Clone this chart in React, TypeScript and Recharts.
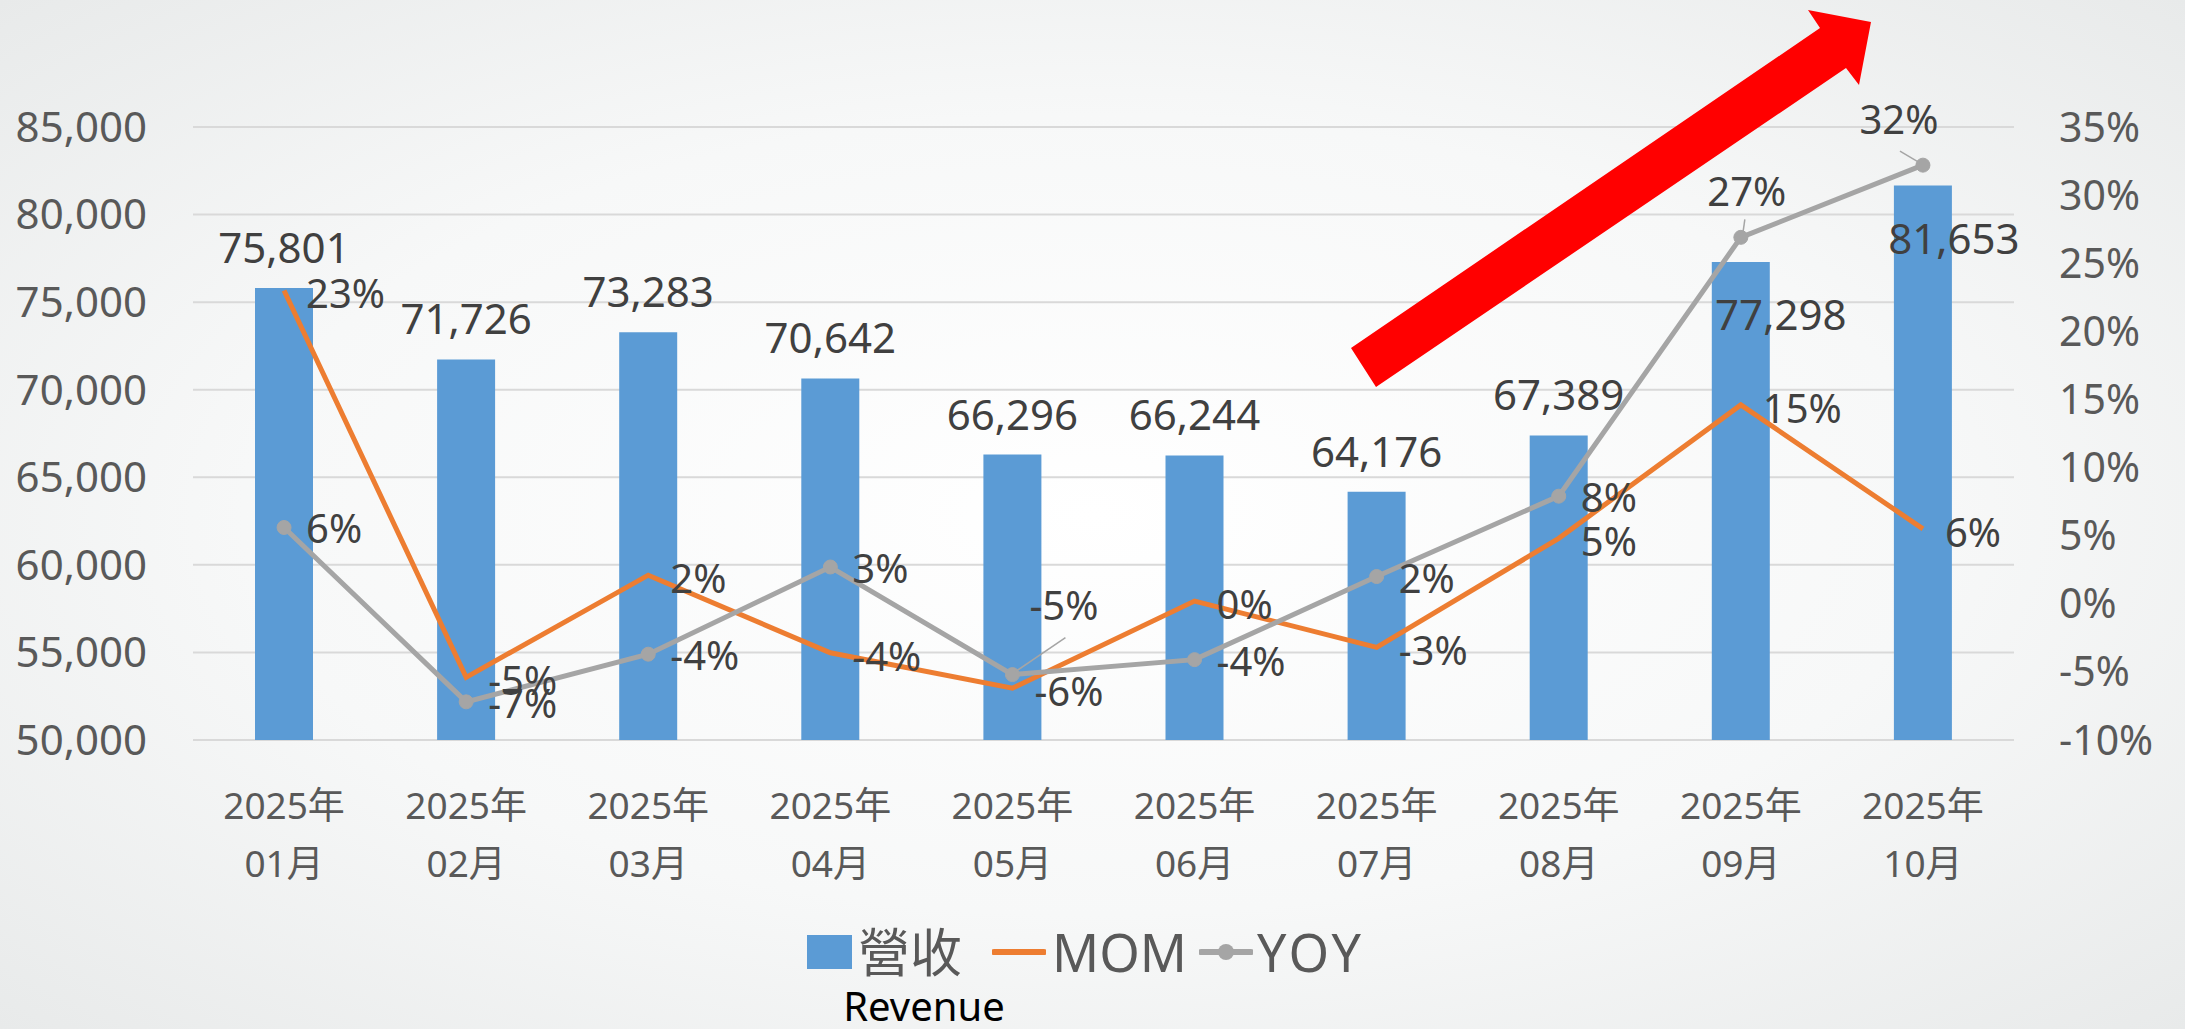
import {
  ComposedChart,
  Bar,
  Line,
  XAxis,
  YAxis,
  CartesianGrid,
  Legend,
  LabelList,
} from 'recharts'

const months = [
  '2025年01月', '2025年02月', '2025年03月', '2025年04月', '2025年05月',
  '2025年06月', '2025年07月', '2025年08月', '2025年09月', '2025年10月',
]
const revenue = [75801, 71726, 73283, 70642, 66296, 66244, 64176, 67389, 77298, 81653]
const mom = [23.0, -5.4, 2.1, -3.6, -6.2, 0.2, -3.2, 4.8, 14.6, 5.5]
const yoy = [5.6, -7.2, -3.7, 2.7, -5.2, -4.1, 2.0, 7.9, 26.9, 32.2]
const revenueTicks = [50000, 55000, 60000, 65000, 70000, 75000, 80000, 85000]
const pctTicks = [-10, -5, 0, 5, 10, 15, 20, 25, 30, 35]

const data = months.map((m, i) => ({ month: m, revenue: revenue[i], mom: mom[i], yoy: yoy[i] }))

const FONT = '"Noto Sans", "Noto Sans CJK TC", sans-serif'
const BLUE = '#5B9BD5'
const ORANGE = '#ED7D31'
const GRAY = '#A5A5A5'
const LABEL = '#404040'
const AXIS = '#595959'

// bars whose value label sits inside the bar (as in the original)
const insideLabels: Record<number, number> = { 8: 40, 9: 31 }

// eslint-disable-next-line @typescript-eslint/no-explicit-any
function BarLabel(props: any) {
  const { x, y, width, value, index } = props
  const inside = index in insideLabels
  const cx = x + width / 2 + (inside ? insideLabels[index] : 0)
  const by = inside ? y + 68 : y - 25
  return (
    <text x={cx} y={by} textAnchor="middle" fontFamily={FONT} fontSize={42} fill={LABEL}>
      {Number(value).toLocaleString('en-US')}
    </text>
  )
}

// eslint-disable-next-line @typescript-eslint/no-explicit-any
function MomLabel(props: any) {
  const { x, y, value } = props
  return (
    <text x={x + 22} y={y + 18} fontFamily={FONT} fontSize={40} fill={LABEL}>
      {`${Math.round(value)}%`}
    </text>
  )
}

// eslint-disable-next-line @typescript-eslint/no-explicit-any
function YoyLabel(props: any) {
  const { x, y, value, index } = props
  const txt = `${Math.round(value)}%`
  if (index === 4) {
    return (
      <g>
        <line x1={x + 3} y1={y - 3} x2={x + 53} y2={y - 37} stroke={GRAY} strokeWidth={1.5} />
        <text x={x + 17} y={y - 55} fontFamily={FONT} fontSize={40} fill={LABEL}>{txt}</text>
      </g>
    )
  }
  if (index === 8) {
    return (
      <g>
        <line x1={x + 2} y1={y - 4} x2={x + 4} y2={y - 18} stroke={GRAY} strokeWidth={1.5} />
        <text x={x + 6} y={y - 31} textAnchor="middle" fontFamily={FONT} fontSize={40} fill={LABEL}>{txt}</text>
      </g>
    )
  }
  if (index === 9) {
    return (
      <g>
        <line x1={x - 1} y1={y - 1} x2={x - 23} y2={y - 14} stroke={GRAY} strokeWidth={1.5} />
        <text x={x - 24} y={y - 31} textAnchor="middle" fontFamily={FONT} fontSize={40} fill={LABEL}>{txt}</text>
      </g>
    )
  }
  return (
    <text x={x + 22} y={y + 16} fontFamily={FONT} fontSize={40} fill={LABEL}>{txt}</text>
  )
}

// eslint-disable-next-line @typescript-eslint/no-explicit-any
function MonthTick({ x, y, payload }: any) {
  const v: string = payload.value
  return (
    <text x={x} y={y} textAnchor="middle" fontFamily={FONT} fontSize={37} fill={AXIS}>
      <tspan x={x} dy={79}>{v.slice(0, 5)}</tspan>
      <tspan x={x} dy={58}>{v.slice(5)}</tspan>
    </text>
  )
}

function LegendContent() {
  return (
    <div
      style={{
        display: 'flex',
        alignItems: 'center',
        justifyContent: 'center',
        height: 64,
        fontFamily: FONT,
        fontSize: 52,
        lineHeight: 1,
        color: AXIS,
        paddingRight: 14,
      }}
    >
      <span style={{ width: 45, height: 34, background: BLUE, marginRight: 6, display: 'inline-block' }} />
      <span>營收</span>
      <svg width={54} height={16} style={{ marginLeft: 30, marginRight: 6 }}>
        <line x1={2} y1={8} x2={52} y2={8} stroke={ORANGE} strokeWidth={6} strokeLinecap="round" />
      </svg>
      <span>MOM</span>
      <svg width={54} height={18} style={{ marginLeft: 12, marginRight: 4 }}>
        <line x1={2} y1={9} x2={52} y2={9} stroke={GRAY} strokeWidth={6} strokeLinecap="round" />
        <circle cx={27} cy={9} r={8} fill={GRAY} />
      </svg>
      <span style={{ letterSpacing: 3 }}>YOY</span>
    </div>
  )
}

export default function App() {
  return (
    <div
      style={{
        position: 'absolute',
        left: 0,
        top: 0,
        width: 2185,
        height: 1029,
        overflow: 'hidden',
        background: 'radial-gradient(ellipse at 50% 50%, #ffffff 0%, #f7f8f8 55%, #e8eaea 100%)',
      }}
    >
      <ComposedChart
        width={2185}
        height={1029}
        data={data}
        margin={{ top: 127, right: 0, left: 0, bottom: 139 }}
      >
        <CartesianGrid yAxisId="left" vertical={false} stroke="#D9D9D9" strokeWidth={2} />
        <XAxis
          dataKey="month"
          interval={0}
          axisLine={false}
          tickLine={false}
          tickSize={0}
          tickMargin={0}
          height={150}
          tick={<MonthTick />}
        />
        <YAxis
          yAxisId="left"
          orientation="left"
          width={193}
          domain={[50000, 85000]}
          ticks={revenueTicks}
          tickFormatter={(v) => Number(v).toLocaleString('en-US')}
          axisLine={false}
          tickLine={false}
          tickSize={0}
          tickMargin={46}
          tick={{ fontSize: 42, fill: AXIS, fontFamily: FONT }}
        />
        <YAxis
          yAxisId="right"
          orientation="right"
          width={171}
          domain={[-10, 35]}
          ticks={pctTicks}
          tickFormatter={(v) => `${v}%`}
          axisLine={false}
          tickLine={false}
          tickSize={0}
          tickMargin={45}
          tick={{ fontSize: 41, fill: AXIS, fontFamily: FONT, textAnchor: 'start' }}
        />
        <Legend
          verticalAlign="middle"
          align="center"
          layout="horizontal"
          wrapperStyle={{ top: 920, left: 0, width: 2185, height: 64 }}
          content={<LegendContent />}
        />
        <Bar yAxisId="left" dataKey="revenue" fill={BLUE} barSize={58} isAnimationActive={false}>
          <LabelList dataKey="revenue" content={<BarLabel />} />
        </Bar>
        <Line
          yAxisId="right"
          type="linear"
          dataKey="mom"
          stroke={ORANGE}
          strokeWidth={5}
          dot={false}
          isAnimationActive={false}
        >
          <LabelList dataKey="mom" content={<MomLabel />} />
        </Line>
        <Line
          yAxisId="right"
          type="linear"
          dataKey="yoy"
          stroke={GRAY}
          strokeWidth={5}
          dot={{ r: 7, fill: GRAY, stroke: GRAY, strokeWidth: 1 }}
          isAnimationActive={false}
        >
          <LabelList dataKey="yoy" content={<YoyLabel />} />
        </Line>
      </ComposedChart>
      {/* 紅色箭頭 + Revenue 註解 */}
      <svg
        width={2185}
        height={1029}
        style={{ position: 'absolute', left: 0, top: 0, pointerEvents: 'none' }}
      >
        <polygon
          points="1351,348 1820,28 1808,10 1871,22 1859,85 1846,68 1376,387"
          fill="#FF0000"
        />
        <text x={924} y={1021} textAnchor="middle" fontFamily={FONT} fontSize={40} fill="#000000">
          Revenue
        </text>
      </svg>
    </div>
  )
}
